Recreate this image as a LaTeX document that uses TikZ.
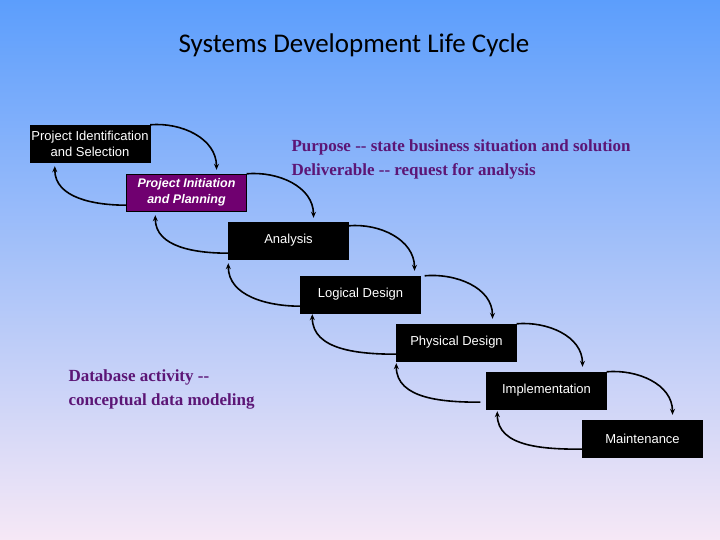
\documentclass[tikz,border=0pt]{standalone}
\usepackage{fontspec}
\setmainfont{Liberation Sans}
\newfontfamily\titlefont{Carlito}
\newfontfamily\notefont{Liberation Serif}
\usetikzlibrary{arrows.meta}
\definecolor{notepurple}{RGB}{92,22,118}
\definecolor{boxpurple}{RGB}{112,0,112}
\tikzset{
  stage/.style={draw=black,fill=black,text=white,minimum width=120pt,minimum height=37pt,
    inner sep=1pt,align=center,font=\fontsize{13}{16}\selectfont},
  flow/.style={line width=1.6pt,-{Stealth[length=6pt,width=5pt]}},
  note/.style={text=notepurple,align=left,anchor=west,font=\notefont\bfseries\fontsize{17}{24}\selectfont}
}
\begin{document}
\begin{tikzpicture}[x=1pt,y=1pt]
                \shade[top color={rgb,255:red,92;green,158;blue,252},middle color={rgb,255:red,172;green,205;blue,240},
                  bottom color={rgb,255:red,246;green,232;blue,246}] (0,0) rectangle (720,540);
                \useasboundingbox (0,0) rectangle (720,540);
                \node [font=\titlefont\fontsize{27}{30}\selectfont] (title) at (354,495) {Systems Development Life Cycle};
                % stages
                \node [stage] (ident) at (90,396.5) {Project Identification\\and Selection};
                \node [stage,fill=boxpurple,font=\bfseries\itshape\fontsize{12.5}{16}\selectfont] (init) at (186.5,347.5) {Project Initiation\\and Planning};
                \node [stage] (anal) at (288.5,299.5) {Analysis};
                \node [stage] (logic) at (360.5,245.5) {Logical Design};
                \node [stage] (phys) at (456.5,197.5) {Physical Design};
                \node [stage] (impl) at (546.5,149.5) {Implementation};
                \node [stage] (maint) at (642.5,101.5) {Maintenance};
                % notes
                \node [note] (purpose) at (288,381) {Purpose -- state business situation and solution\\Deliverable -- request for analysis};
                \node [note] (dbnote) at (65,151) {Database activity --\\conceptual data modeling};
                % forward arrows
                \draw [flow] (ident.north east) to [out=5,in=90] ([xshift=30pt,yshift=4pt]init.north);
                \draw [flow] (init.north east) to [out=5,in=90] ([xshift=25pt,yshift=4pt]anal.north);
                \draw [flow] ([yshift=-4pt]anal.north east) to [out=5,in=90] ([xshift=54pt,yshift=5pt]logic.north);
                \draw [flow] ([xshift=4pt]logic.north east) to [out=5,in=90] ([xshift=36pt,yshift=5pt]phys.north);
                \draw [flow] (phys.north east) to [out=5,in=90] ([xshift=36pt,yshift=5pt]impl.north);
                \draw [flow] (impl.north east) to [out=5,in=90] ([xshift=30pt,yshift=5pt]maint.north);
                % backward arrows
                \draw [flow] ([yshift=6pt]init.south west) to [out=180,in=270] ([xshift=25pt,yshift=-4pt]ident.south west);
                \draw [flow] ([yshift=6pt]anal.south west) to [out=180,in=270] ([xshift=29pt,yshift=-4pt]init.south west);
                \draw [flow] ([yshift=7pt]logic.south west) to [out=180,in=270] ([yshift=-4pt]anal.south west);
                \draw [flow] ([yshift=7pt]phys.south west) to [out=180,in=270] ([xshift=12pt,yshift=-1pt]logic.south west);
                \draw [flow] ([xshift=-6pt,yshift=7pt]impl.south west) to [out=180,in=270] ([yshift=-2pt]phys.south west);
                \draw [flow] ([yshift=8pt]maint.south west) to [out=180,in=270] ([xshift=11pt,yshift=-2pt]impl.south west);
\end{tikzpicture}
\end{document}
